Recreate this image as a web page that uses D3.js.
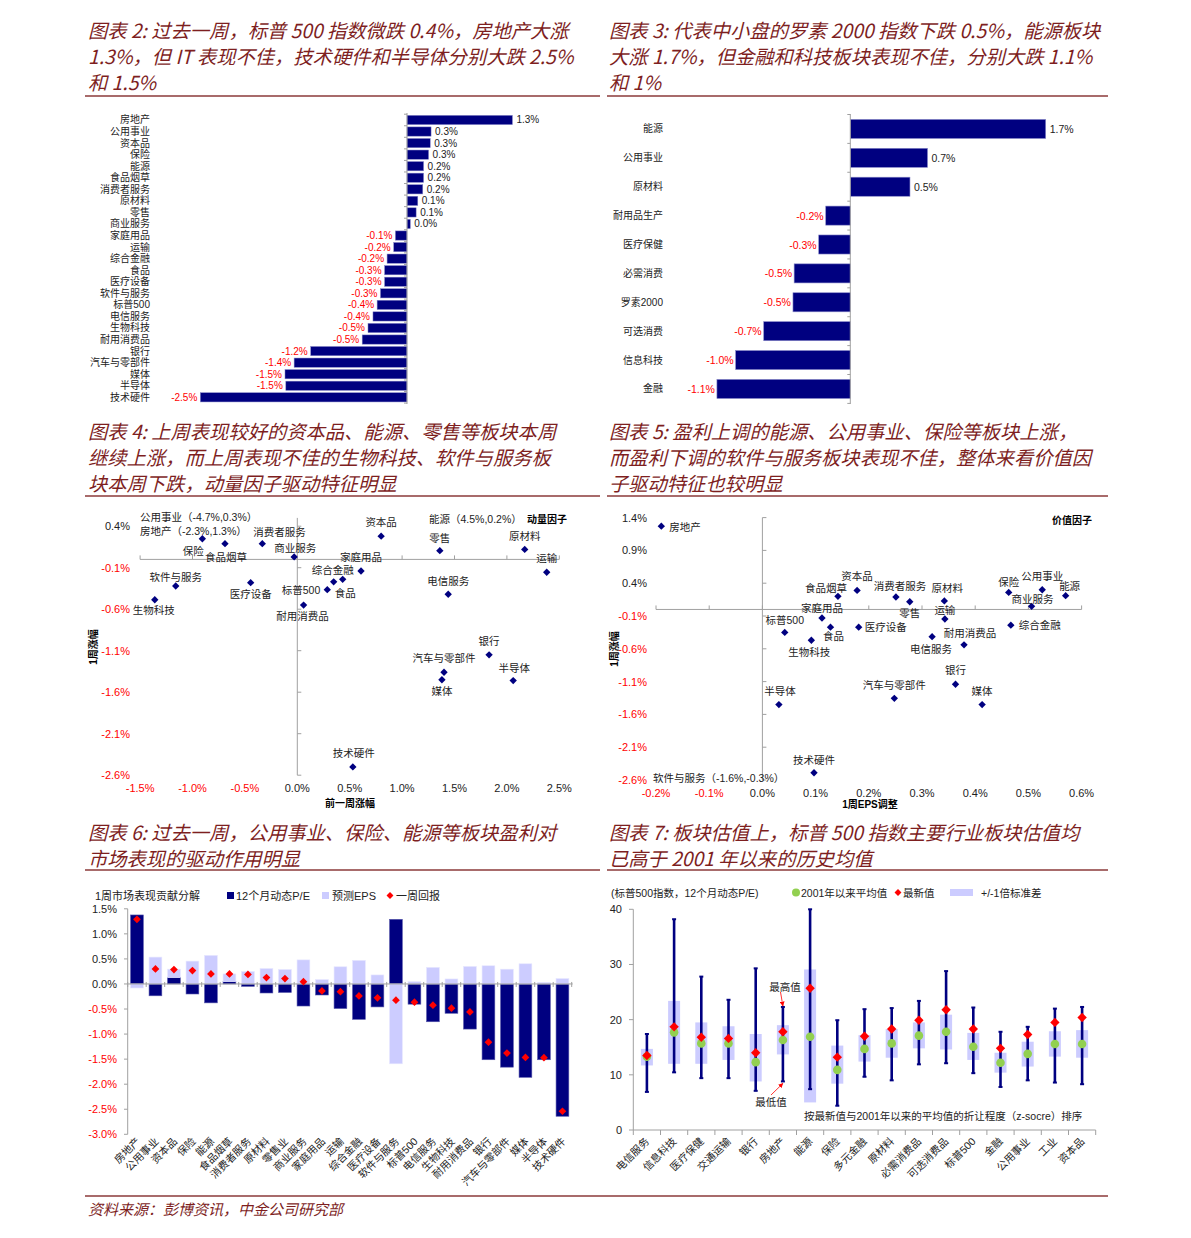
<!DOCTYPE html>
<html><head><meta charset="utf-8">
<script src="https://cdn.jsdelivr.net/npm/d3@7"></script>
<style>
body{margin:0;background:#fff;}
svg{display:block;}
text{font-family:"Liberation Sans",Arial,"Noto Sans CJK SC",sans-serif;}
.title{font-family:"Noto Sans CJK SC",sans-serif;font-style:italic;}
</style></head><body>
<svg id="c" width="1191" height="1238"></svg>
<script>
// ---------------- DATA ----------------
const titleP2 = ["图表 2: 过去一周，标普 500 指数微跌 0.4%，房地产大涨", "1.3%，但 IT 表现不佳，技术硬件和半导体分别大跌 2.5%", "和 1.5%"];
const titleP3 = ["图表 3: 代表中小盘的罗素 2000 指数下跌 0.5%，能源板块", "大涨 1.7%，但金融和科技板块表现不佳，分别大跌 1.1%", "和 1%"];
const titleP4 = ["图表 4: 上周表现较好的资本品、能源、零售等板块本周", "继续上涨，而上周表现不佳的生物科技、软件与服务板", "块本周下跌，动量因子驱动特征明显"];
const titleP5 = ["图表 5: 盈利上调的能源、公用事业、保险等板块上涨，", "而盈利下调的软件与服务板块表现不佳，整体来看价值因", "子驱动特征也较明显"];
const titleP6 = ["图表 6: 过去一周，公用事业、保险、能源等板块盈利对", "市场表现的驱动作用明显"];
const titleP7 = ["图表 7: 板块估值上，标普 500 指数主要行业板块估值均", "已高于 2001 年以来的历史均值"];
const footerText = "资料来源：彭博资讯，中金公司研究部";

// Panel 2
const p2Categories = ['房地产','公用事业','资本品','保险','能源','食品烟草','消费者服务','原材料','零售','商业服务','家庭用品','运输','综合金融','食品','医疗设备','软件与服务','标普500','电信服务','生物科技','耐用消费品','银行','汽车与零部件','媒体','半导体','技术硬件'];
const p2Values = [1.27,0.29,0.28,0.26,0.2,0.2,0.19,0.13,0.11,0.04,-0.14,-0.16,-0.24,-0.27,-0.27,-0.32,-0.36,-0.41,-0.47,-0.54,-1.16,-1.36,-1.47,-1.46,-2.49];

// Panel 3
const p3Categories = ['能源','公用事业','原材料','耐用品生产','医疗保健','必需消费','罗素2000','可选消费','信息科技','金融'];
const p3Values = [1.67,0.66,0.51,-0.21,-0.27,-0.48,-0.49,-0.74,-0.98,-1.14];

// Panel 4 (x: previous week return, y: this week return)
const p4Names = ['保险','食品烟草','消费者服务','商业服务','软件与服务','医疗设备','生物科技','标普500','耐用消费品','食品','综合金融','家庭用品','资本品','零售','原材料','运输','电信服务','银行','汽车与零部件','媒体','半导体','技术硬件'];
const p4PrevWeek = [-0.906,-0.69,-0.334,-0.03,-1.16,-0.445,-1.36,0.286,0.06,0.347,0.433,0.608,0.80,1.36,2.17,2.38,1.44,1.83,1.40,1.38,2.06,0.53];
const p4ThisWeek = [0.249,0.19,0.19,0.03,-0.32,-0.28,-0.486,-0.365,-0.55,-0.27,-0.24,-0.14,0.28,0.105,0.12,-0.155,-0.42,-1.15,-1.36,-1.45,-1.46,-2.50];
const p4XTicks = [-1.5,-1.0,-0.5,0.0,0.5,1.0,1.5,2.0,2.5];
const p4YTicks = [0.4,-0.1,-0.6,-1.1,-1.6,-2.1,-2.6];
const p4Notes = ['公用事业（-4.7%,0.3%）','房地产（-2.3%,1.3%）','能源（4.5%,0.2%）'];

// Panel 5 (x: 1-week EPS revision, y: this week return)
const p5Names = ['房地产','资本品','食品烟草','家庭用品','食品','医疗设备','标普500','生物科技','半导体','技术硬件','消费者服务','零售','原材料','运输','电信服务','耐用消费品','保险','公用事业','能源','商业服务','综合金融','银行','汽车与零部件','媒体'];
const p5EpsRevision = [-0.19,0.178,0.142,0.112,0.128,0.181,0.042,0.092,0.031,0.097,0.251,0.277,0.342,0.343,0.319,0.379,0.463,0.526,0.570,0.506,0.467,0.363,0.248,0.413];
const p5ThisWeek = [1.27,0.29,0.20,-0.13,-0.27,-0.27,-0.35,-0.47,-1.45,-2.49,0.19,0.117,0.13,-0.146,-0.415,-0.54,0.26,0.30,0.21,0.047,-0.24,-1.14,-1.355,-1.45];
const p5XTicks = [-0.2,-0.1,0.0,0.1,0.2,0.3,0.4,0.5,0.6];
const p5YTicks = [1.4,0.9,0.4,-0.1,-0.6,-1.1,-1.6,-2.1,-2.6];
const p5Notes = ['软件与服务（-1.6%,-0.3%）'];

// Panel 6
const p6Categories = ['房地产','公用事业','资本品','保险','能源','食品烟草','消费者服务','原材料','零售业','商业服务','家庭用品','运输','综合金融','医疗设备','软件与服务','标普500','电信服务','生物科技','耐用消费品','银行','汽车与零部件','媒体','半导体','技术硬件'];
const p6PE  = [1.377,-0.236,0.127,-0.20,-0.377,0.046,-0.048,-0.18,-0.17,-0.44,-0.22,-0.49,-0.706,-0.458,1.29,-0.403,-0.754,-0.585,-0.9,-1.512,-1.66,-1.863,-1.512,-2.64];
const p6EPS = [-0.08,0.536,0.168,0.456,0.57,0.154,0.248,0.308,0.288,0.48,0.087,0.343,0.47,0.18,-1.593,0.046,0.33,0.10,0.349,0.363,0.295,0.403,0.033,0.107];
const p6Return = [1.29,0.30,0.288,0.268,0.20,0.20,0.19,0.127,0.107,0.046,-0.14,-0.155,-0.24,-0.276,-0.323,-0.363,-0.423,-0.484,-0.558,-1.163,-1.38,-1.466,-1.47,-2.54];
const p6YTicks = [1.5,1.0,0.5,0.0,-0.5,-1.0,-1.5,-2.0,-2.5,-3.0];
const p6Legend = ['1周市场表现贡献分解','12个月动态P/E','预测EPS','一周回报'];

// Panel 7
const p7Categories = ['电信服务','信息科技','医疗保健','交通运输','银行','房地产','能源','保险','多元金融','原材料','必需消费品','可选消费品','标普500','金融','公用事业','工业','资本品'];
const p7Max     = [17.4,38.2,27.8,23.6,29.3,22.3,40.0,19.9,21.9,22.1,23.4,28.8,22.2,17.8,18.7,22.0,22.3];
const p7Min     = [6.9,10.45,9.4,9.4,7.1,8.8,7.4,4.4,9.65,9.0,11.9,12.1,10.3,7.8,9.0,8.6,8.3];
const p7StdHigh = [14.7,23.4,19.5,18.8,17.4,19.0,29.1,15.3,17.2,18.3,19.5,20.9,17.6,14.0,16.0,17.9,18.1];
const p7StdLow  = [11.7,12.0,12.0,12.7,8.8,13.7,5.0,8.4,12.4,13.1,14.8,14.6,12.7,10.4,11.5,13.3,13.1];
const p7Mean    = [13.3,17.7,15.7,15.7,12.3,16.3,16.9,10.9,14.7,15.7,17.1,17.8,15.1,12.2,13.8,15.6,15.6];
const p7Latest  = [13.5,18.7,16.8,16.6,14.0,17.8,25.7,13.2,17.0,18.3,19.9,21.8,18.3,14.8,17.3,19.5,20.4];
const p7YTicks = [0,10,20,30,40];
const p7Legend = ['(标普500指数，12个月动态P/E)','2001年以来平均值','最新值','+/-1倍标准差'];
const p7Notes = ['最高值','最低值','按最新值与2001年以来的平均值的折让程度（z-socre）排序'];

// ---------------- STYLE / LAYOUT ----------------
const NAVY='#000080', LIGHT='#CCCCFF', RED='#FF0000', GREEN='#92D050', AXIS='#A0A0A0', TCOL='#7E1F1F', LCOL='#8B3A3A';
const svg = d3.select('#c');
const pct = v => v.toFixed(1) + '%';

// Titles
function title(lines, x, ys){
  lines.forEach((t,i)=>svg.append('text').attr('class','title').attr('x',x).attr('y',ys[i])
    .attr('dominant-baseline','central').attr('font-size',19.3).attr('fill',TCOL).text(t));
}
title(titleP2, 88, [30,56,82]);
title(titleP3, 609, [30,56,82]);
title(titleP4, 88, [431,457,483]);
title(titleP5, 609, [431,457,483]);
title(titleP6, 88, [832,858]);
title(titleP7, 609, [832,858]);
function hline(x1,x2,y,w){svg.append('line').attr('x1',x1).attr('x2',x2).attr('y1',y).attr('y2',y).attr('stroke',LCOL).attr('stroke-width',w||1.3);}
hline(85,600,96); hline(607,1108,96);
hline(85,600,496); hline(607,1108,496);
hline(85,600,870); hline(607,1108,870);
hline(85,1108,1196);
svg.append('text').attr('class','title').attr('x',88).attr('y',1208).attr('dominant-baseline','central')
  .attr('font-size',15).attr('fill',TCOL).text(footerText);

// ---------------- Panel 2 ----------------
{
  const g = svg.append('g');
  const x = d3.scaleLinear().domain([0,1]).range([407,490]);
  const y = d3.scaleBand().domain(p2Categories).range([114.2,403.1]).paddingInner(0.2).paddingOuter(0.1);
  const data = p2Categories.map((c,i)=>({c,v:p2Values[i]}));
  g.selectAll('rect').data(data).join('rect')
    .attr('x',d=>Math.min(x(0),x(d.v))).attr('width',d=>Math.abs(x(d.v)-x(0)))
    .attr('y',d=>y(d.c)).attr('height',y.bandwidth())
    .attr('fill',NAVY).attr('stroke','#8888c8').attr('stroke-width',0.5);
  g.append('line').attr('x1',x(0)).attr('x2',x(0)).attr('y1',113).attr('y2',404).attr('stroke',AXIS);
  const st = y.step();
  d3.range(p2Categories.length+1).forEach(i=>{
    const yy = y.range()[0] + i*st;
    g.append('line').attr('x1',x(0)-3).attr('x2',x(0)).attr('y1',yy).attr('y2',yy).attr('stroke',AXIS);
  });
  g.selectAll('.cl').data(data).join('text').attr('x',150).attr('y',d=>y(d.c)+y.bandwidth()/2)
    .attr('text-anchor','end').attr('dominant-baseline','central').attr('font-size',10).attr('fill','#222').text(d=>d.c);
  g.selectAll('.vl').data(data).join('text')
    .attr('x',d=>d.v>=0? x(d.v)+4 : x(d.v)-3).attr('y',d=>y(d.c)+y.bandwidth()/2)
    .attr('text-anchor',d=>d.v>=0?'start':'end').attr('dominant-baseline','central')
    .attr('font-size',10).attr('fill',d=>d.v>=0?'#222':RED).text(d=>pct(d.v));
}

// ---------------- Panel 3 ----------------
{
  const g = svg.append('g');
  const x = d3.scaleLinear().domain([0,1]).range([850.3,967.3]);
  const y = d3.scaleBand().domain(p3Categories).range([114.5,403.4]).paddingInner(0.34).paddingOuter(0.17);
  const data = p3Categories.map((c,i)=>({c,v:p3Values[i]}));
  g.selectAll('rect').data(data).join('rect')
    .attr('x',d=>Math.min(x(0),x(d.v))).attr('width',d=>Math.abs(x(d.v)-x(0)))
    .attr('y',d=>y(d.c)).attr('height',y.bandwidth())
    .attr('fill',NAVY).attr('stroke','#8888c8').attr('stroke-width',0.6);
  g.append('line').attr('x1',x(0)).attr('x2',x(0)).attr('y1',114).attr('y2',404).attr('stroke',AXIS);
  d3.range(p3Categories.length+1).forEach(i=>{
    const yy = y.range()[0] + i*y.step();
    g.append('line').attr('x1',x(0)-3).attr('x2',x(0)).attr('y1',yy).attr('y2',yy).attr('stroke',AXIS);
  });
  g.selectAll('.cl').data(data).join('text').attr('x',663).attr('y',d=>y(d.c)+y.bandwidth()/2)
    .attr('text-anchor','end').attr('dominant-baseline','central').attr('font-size',10).attr('fill','#222').text(d=>d.c);
  g.selectAll('.vl').data(data).join('text')
    .attr('x',d=>d.v>=0? x(d.v)+4 : x(d.v)-2).attr('y',d=>y(d.c)+y.bandwidth()/2)
    .attr('text-anchor',d=>d.v>=0?'start':'end').attr('dominant-baseline','central')
    .attr('font-size',10.5).attr('fill',d=>d.v>=0?'#222':RED).text(d=>pct(d.v));
}

// ---------------- Scatter helper ----------------
const diamond = d3.symbol(d3.symbolSquare, 27);
function scatter(o){
  const g = svg.append('g');
  const x=o.x, y=o.y;
  const [x0,x1]=x.range(), [yb,yt]=y.range();
  g.append('line').attr('x1',x(0)).attr('x2',x(0)).attr('y1',yt).attr('y2',yb).attr('stroke',AXIS);
  g.append('line').attr('x1',x0).attr('x2',x1).attr('y1',y(0)).attr('y2',y(0)).attr('stroke',AXIS);
  o.yTicks.forEach(t=>{
    g.append('line').attr('x1',x(0)).attr('x2',x(0)+4).attr('y1',y(t)).attr('y2',y(t)).attr('stroke',AXIS);
    g.append('text').attr('x',o.yLabelX).attr('y',y(t)).attr('text-anchor','end').attr('dominant-baseline','central')
      .attr('font-size',11).attr('fill',t<0?RED:'#222').text(pct(t));
  });
  o.xTicks.forEach(t=>{
    g.append('line').attr('x1',x(t)).attr('x2',x(t)).attr('y1',y(0)-4).attr('y2',y(0)).attr('stroke',AXIS);
    g.append('text').attr('x',x(t)).attr('y',o.xLabelY).attr('text-anchor','middle').attr('dominant-baseline','central')
      .attr('font-size',11).attr('fill',t<0?RED:'#222').text(pct(t));
  });
  const data = o.names.map((n,i)=>({n,vx:o.xs[i],vy:o.ys[i]}));
  g.selectAll('path').data(data).join('path').attr('d',diamond)
    .attr('transform',d=>`translate(${x(d.vx)},${y(d.vy)}) rotate(45)`).attr('fill',NAVY);
  g.selectAll('.pl').data(data).join('text')
    .attr('x',d=>x(d.vx)+(o.lab[d.n]||[0,-12])[0]).attr('y',d=>y(d.vy)+(o.lab[d.n]||[0,-12])[1])
    .attr('text-anchor',d=>(o.lab[d.n]||[0,0,'middle'])[2]||'middle').attr('dominant-baseline','central')
    .attr('font-size',10.5).attr('fill','#222').text(d=>d.n);
  g.append('text').attr('transform',`translate(${o.yTitle[0]},${o.yTitle[1]}) rotate(-90)`).attr('text-anchor','middle')
    .attr('dominant-baseline','central').attr('font-size',10).attr('font-weight','bold').text('1周涨幅');
  g.append('text').attr('x',o.xTitle[0]).attr('y',o.xTitle[1]).attr('text-anchor','middle')
    .attr('dominant-baseline','central').attr('font-size',10).attr('font-weight','bold').text(o.xTitleText);
  g.append('text').attr('x',o.factor[0]).attr('y',o.factor[1]).attr('dominant-baseline','central')
    .attr('font-size',10).attr('font-weight','bold').text(o.factorText);
  return g;
}

// Panel 4
{
  const x = d3.scaleLinear().domain([-1.5,2.5]).range([297.3-1.5*104.8, 297.3+2.5*104.8]);
  const y = d3.scaleLinear().domain([-2.6,0.5]).range([775.2,517.9]);
  const lab = {'保险':[-9,12,'middle'],'食品烟草':[1,13,'middle'],'消费者服务':[-9,-12,'start'],'商业服务':[1,-9,'middle'],
    '软件与服务':[0,-9,'middle'],'医疗设备':[0,11,'middle'],'生物科技':[-1,10,'middle'],'标普500':[-7,0,'end'],
    '耐用消费品':[-1,11,'middle'],'综合金融':[-10,-9,'middle'],'食品':[1,11,'start'],'家庭用品':[0,-14,'middle'],
    '资本品':[0,-14,'middle'],'零售':[0,-13,'middle'],'原材料':[0,-13,'middle'],'运输':[0,-14,'middle'],
    '电信服务':[0,-13,'middle'],'银行':[0,-14,'middle'],'汽车与零部件':[0,-14,'middle'],'媒体':[0,11,'middle'],
    '半导体':[1,-13,'middle'],'技术硬件':[1,-14,'middle']};
  scatter({x, y, names:p4Names, xs:p4PrevWeek, ys:p4ThisWeek, lab,
    xTicks:p4XTicks, yTicks:p4YTicks, yLabelX:130, xLabelY:788,
    yTitle:[93,647], xTitle:[350,803], xTitleText:'前一周涨幅', factor:[527,519], factorText:'动量因子'});
  [[140,517],[140,531],[429,519]].forEach((p,i)=>svg.append('text').attr('x',p[0]).attr('y',p[1])
    .attr('dominant-baseline','central').attr('font-size',10.5).attr('fill','#222').text(p4Notes[i]));
}

// Panel 5
{
  const x = d3.scaleLinear().domain([-0.2,0.6]).range([762.4-0.2*532, 762.4+0.6*532]);
  const y = d3.scaleLinear().domain([-2.6,1.4]).range([780,517.6]);
  const lab = {'房地产':[8,1,'start'],'资本品':[0,-14,'middle'],'食品烟草':[-12,-8,'middle'],'家庭用品':[0,-10,'middle'],
    '标普500':[0,-12,'middle'],'食品':[3,9,'middle'],'生物科技':[-2,12,'middle'],'半导体':[1,-14,'middle'],
    '技术硬件':[0,-13,'middle'],'医疗设备':[6,0,'start'],'消费者服务':[4,-11,'middle'],'零售':[0,11,'middle'],
    '原材料':[3,-13,'middle'],'运输':[0,-9,'middle'],'电信服务':[-1,12,'middle'],'耐用消费品':[6,-12,'middle'],
    '保险':[0,-10,'middle'],'公用事业':[0,-14,'middle'],'能源':[4,-10,'middle'],'商业服务':[1,-7,'middle'],
    '综合金融':[8,0,'start'],'银行':[0,-14,'middle'],'汽车与零部件':[0,-13,'middle'],'媒体':[0,-14,'middle']};
  scatter({x, y, names:p5Names, xs:p5EpsRevision, ys:p5ThisWeek, lab,
    xTicks:p5XTicks, yTicks:p5YTicks, yLabelX:647, xLabelY:793,
    yTitle:[614,649], xTitle:[870,804], xTitleText:'1周EPS调整', factor:[1052,520], factorText:'价值因子'});
  svg.append('text').attr('x',653).attr('y',778).attr('dominant-baseline','central').attr('font-size',10.5).attr('fill','#222').text(p5Notes[0]);
}

// ---------------- Panel 6 ----------------
{
  const g = svg.append('g');
  const x = d3.scaleBand().domain(p6Categories).range([127.7,571.7]).paddingInner(0.31).paddingOuter(0.155);
  const y = d3.scaleLinear().domain([-3,1.5]).range([1134.3,908.8]);
  const rows = p6Categories.map((c,i)=>({c,pe:p6PE[i],eps:p6EPS[i],ret:p6Return[i]}));
  const stack = d3.stack().keys(['pe','eps']).offset(d3.stackOffsetDiverging)(rows);
  const fills = {pe:NAVY, eps:LIGHT};
  stack.forEach(s=>{
    g.selectAll('.b'+s.key).data(s).join('rect')
      .attr('x',d=>x(d.data.c)).attr('width',x.bandwidth())
      .attr('y',d=>y(Math.max(d[0],d[1]))).attr('height',d=>Math.abs(y(d[0])-y(d[1])))
      .attr('fill',fills[s.key]).attr('stroke',s.key==='pe'?'#5555aa':'#e6e6ff').attr('stroke-width',0.6);
  });
  g.append('line').attr('x1',127.7).attr('x2',127.7).attr('y1',y(1.5)).attr('y2',y(-3)).attr('stroke',AXIS);
  p6YTicks.forEach(t=>{
    g.append('line').attr('x1',124).attr('x2',127.7).attr('y1',y(t)).attr('y2',y(t)).attr('stroke',AXIS);
    g.append('text').attr('x',117).attr('y',y(t)).attr('text-anchor','end').attr('dominant-baseline','central')
      .attr('font-size',11).attr('fill',t<0?RED:'#222').text(pct(t));
  });
  g.append('line').attr('x1',127.7).attr('x2',572.7).attr('y1',y(0)).attr('y2',y(0)).attr('stroke',AXIS);
  d3.range(p6Categories.length+1).forEach(i=>{
    const xx = 127.7 + i*x.step();
    g.append('line').attr('x1',xx).attr('x2',xx).attr('y1',y(0)-2).attr('y2',y(0)+3).attr('stroke',AXIS);
  });
  g.selectAll('.rd').data(rows).join('path').attr('d',d3.symbol(d3.symbolSquare,30))
    .attr('transform',d=>`translate(${x(d.c)+x.bandwidth()/2},${y(d.ret)}) rotate(45)`).attr('fill',RED);
  g.selectAll('.xl').data(rows).join('text')
    .attr('transform',d=>`translate(${x(d.c)+x.bandwidth()/2+4},1142) rotate(-45)`)
    .attr('text-anchor','end').attr('font-size',10.5).attr('fill','#222').text(d=>d.c);
  g.append('text').attr('x',95).attr('y',896).attr('dominant-baseline','central').attr('font-size',11).attr('fill','#222').text(p6Legend[0]);
  g.append('rect').attr('x',227).attr('y',892).attr('width',7).attr('height',7).attr('fill',NAVY);
  g.append('text').attr('x',236).attr('y',896).attr('dominant-baseline','central').attr('font-size',11).attr('fill','#222').text(p6Legend[1]);
  g.append('rect').attr('x',322).attr('y',892).attr('width',7).attr('height',7).attr('fill',LIGHT);
  g.append('text').attr('x',332).attr('y',896).attr('dominant-baseline','central').attr('font-size',11).attr('fill','#222').text(p6Legend[2]);
  g.append('path').attr('d',d3.symbol(d3.symbolSquare,24)).attr('transform','translate(390,895.5) rotate(45)').attr('fill',RED);
  g.append('text').attr('x',396).attr('y',896).attr('dominant-baseline','central').attr('font-size',11).attr('fill','#222').text(p6Legend[3]);
}

// ---------------- Panel 7 ----------------
{
  const g = svg.append('g');
  const x = d3.scaleBand().domain(p7Categories).range([633.3,1095.7]).paddingInner(0.56).paddingOuter(0.28);
  const y = d3.scaleLinear().domain([0,40]).range([1130,909.3]);
  const rows = p7Categories.map((c,i)=>({c,mx:p7Max[i],mn:p7Min[i],hi:p7StdHigh[i],lo:p7StdLow[i],mean:p7Mean[i],last:p7Latest[i]}));
  const cx = d => x(d.c)+x.bandwidth()/2;
  g.selectAll('.box').data(rows).join('rect')
    .attr('x',d=>cx(d)-6).attr('width',12).attr('y',d=>y(d.hi)).attr('height',d=>y(d.lo)-y(d.hi)).attr('fill',LIGHT);
  g.append('line').attr('x1',633.3).attr('x2',633.3).attr('y1',y(40)).attr('y2',y(0)).attr('stroke',AXIS);
  p7YTicks.forEach(t=>{
    g.append('line').attr('x1',629).attr('x2',633.3).attr('y1',y(t)).attr('y2',y(t)).attr('stroke',AXIS);
    g.append('text').attr('x',622).attr('y',y(t)).attr('text-anchor','end').attr('dominant-baseline','central')
      .attr('font-size',11).attr('fill','#222').text(t);
  });
  g.append('line').attr('x1',633.3).attr('x2',1095.7).attr('y1',y(0)).attr('y2',y(0)).attr('stroke',AXIS);
  d3.range(p7Categories.length+1).forEach(i=>{
    const xx = 633.3 + i*x.step();
    g.append('line').attr('x1',xx).attr('x2',xx).attr('y1',y(0)).attr('y2',y(0)+5).attr('stroke',AXIS);
  });
  g.selectAll('.wh').data(rows).join('line').attr('x1',cx).attr('x2',cx).attr('y1',d=>y(d.mx)).attr('y2',d=>y(d.mn))
    .attr('stroke',NAVY).attr('stroke-width',2.6);
  ['mx','mn'].forEach(k=>{
    g.selectAll('.cap'+k).data(rows).join('line').attr('x1',d=>cx(d)-2).attr('x2',d=>cx(d)+2)
      .attr('y1',d=>y(d[k])).attr('y2',d=>y(d[k])).attr('stroke',NAVY).attr('stroke-width',2);
  });
  g.selectAll('.mean').data(rows).join('circle').attr('cx',cx).attr('cy',d=>y(d.mean)).attr('r',4.3).attr('fill',GREEN);
  g.selectAll('.last').data(rows).join('path').attr('d',d3.symbol(d3.symbolSquare,44))
    .attr('transform',d=>`translate(${cx(d)},${y(d.last)}) rotate(45)`).attr('fill',RED);
  g.selectAll('.xl').data(rows).join('text')
    .attr('transform',d=>`translate(${cx(d)+3},1142) rotate(-45)`)
    .attr('text-anchor','end').attr('font-size',10.5).attr('fill','#222').text(d=>d.c);
  g.append('text').attr('x',611).attr('y',893).attr('dominant-baseline','central').attr('font-size',10.5).attr('fill','#222').text(p7Legend[0]);
  g.append('circle').attr('cx',796).attr('cy',892.5).attr('r',4).attr('fill',GREEN);
  g.append('text').attr('x',801).attr('y',893).attr('dominant-baseline','central').attr('font-size',10.5).attr('fill','#222').text(p7Legend[1]);
  g.append('path').attr('d',d3.symbol(d3.symbolSquare,24)).attr('transform','translate(898,892.5) rotate(45)').attr('fill',RED);
  g.append('text').attr('x',903).attr('y',893).attr('dominant-baseline','central').attr('font-size',10.5).attr('fill','#222').text(p7Legend[2]);
  g.append('rect').attr('x',950).attr('y',889).attr('width',23).attr('height',7).attr('fill',LIGHT);
  g.append('text').attr('x',981).attr('y',893).attr('dominant-baseline','central').attr('font-size',10.5).attr('fill','#222').text(p7Legend[3]);
  const defs = svg.append('defs');
  defs.append('marker').attr('id','arr').attr('viewBox','0 0 10 10').attr('refX',9).attr('refY',5)
    .attr('markerWidth',6).attr('markerHeight',6).attr('orient','auto')
    .append('path').attr('d','M0,0 L10,5 L0,10 z').attr('fill',RED);
  const bx = cx(rows[5]);
  g.append('text').attr('x',785).attr('y',987).attr('text-anchor','middle').attr('dominant-baseline','central').attr('font-size',10.5).attr('fill','#222').text(p7Notes[0]);
  g.append('line').attr('x1',780.5).attr('y1',992).attr('x2',bx).attr('y2',y(rows[5].mx)-1).attr('stroke',RED).attr('stroke-width',0.8).attr('marker-end','url(#arr)');
  g.append('text').attr('x',771).attr('y',1102).attr('text-anchor','middle').attr('dominant-baseline','central').attr('font-size',10.5).attr('fill','#222').text(p7Notes[1]);
  g.append('line').attr('x1',771).attr('y1',1095).attr('x2',bx).attr('y2',y(rows[5].mn)+2).attr('stroke',RED).attr('stroke-width',0.8).attr('marker-end','url(#arr)');
  g.append('text').attr('x',804).attr('y',1116).attr('dominant-baseline','central').attr('font-size',10.5).attr('fill','#222').text(p7Notes[2]);
}
</script>
</body></html>
